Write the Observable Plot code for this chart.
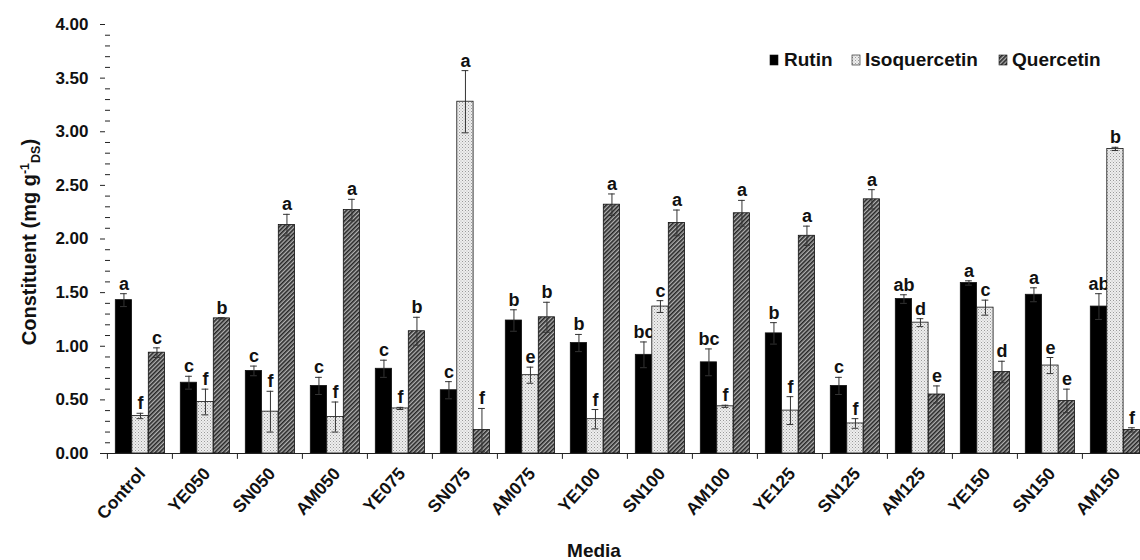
<!DOCTYPE html>
<html><head><meta charset="utf-8">
<script src="https://cdn.jsdelivr.net/npm/d3@7"></script>
<script src="https://cdn.jsdelivr.net/npm/@observablehq/plot@0.6"></script>
<style>
body{margin:0;background:#fff;}
#chart svg{font-family:"Liberation Sans",Arial,sans-serif;}
</style>
</head><body><div id="chart"></div>
<script>
const media = ["Control","YE050","SN050","AM050","YE075","SN075","AM075","YE100","SN100","AM100","YE125","SN125","AM125","YE150","SN150","AM150"];
const series = ["Rutin","Isoquercetin","Quercetin"];
const rutin    = [1.43,0.66,0.77,0.63,0.79,0.59,1.24,1.03,0.92,0.85,1.12,0.63,1.44,1.59,1.48,1.37];
const rutinErr = [0.06,0.06,0.045,0.08,0.08,0.08,0.10,0.08,0.12,0.125,0.10,0.08,0.04,0.02,0.065,0.12];
const iso      = [0.35,0.48,0.39,0.34,0.42,3.28,0.73,0.32,1.37,0.44,0.40,0.28,1.22,1.36,0.82,2.84];
const isoErr   = [0.025,0.12,0.19,0.14,0.01,0.29,0.075,0.09,0.055,0.01,0.13,0.045,0.037,0.07,0.075,0.015];
const quer     = [0.94,1.26,2.13,2.27,1.14,0.22,1.27,2.32,2.15,2.24,2.03,2.37,0.55,0.76,0.49,0.22];
const querErr  = [0.045,0.006,0.10,0.10,0.13,0.20,0.14,0.10,0.12,0.12,0.09,0.09,0.08,0.10,0.11,0.02];
const rutinLetters = ["a","c","c","c","c","c","b","b","bc","bc","b","c","ab","a","a","ab"];
const isoLetters   = ["f","f","f","f","f","a","e","f","c","f","f","f","d","c","e","b"];
const querLetters  = ["c","b","a","a","b","f","b","a","a","a","a","a","e","d","e","f"];
const yTicks = [0,0.5,1,1.5,2,2.5,3,3.5,4];
const yMinor = d3.range(0,41).map(i=>i/10).filter(v=>Math.round(v*10)%5!==0);

const values = [rutin, iso, quer], errs = [rutinErr, isoErr, querErr], letters = [rutinLetters, isoLetters, querLetters];
const rows = series.flatMap((s,i)=>media.map((m,j)=>({media:m, series:s, si:i, value:values[i][j], err:errs[i][j], letter:letters[i][j]})));

const W = 1140, H = 560, left = 105, right = 1148.5;
const step = (right-left)/media.length;
const barOff = 8.3, barW = 16.5;
const fills = ["#000","url(#stipple)","url(#hatch)"];

const marks = [];
series.forEach((s,i)=>{
  const d = rows.filter(r=>r.si===i);
  const l = barOff + i*barW, r = step - l - barW, c = l + barW/2;
  marks.push(Plot.barY(d,{x:"media",y:"value",fill:fills[i],stroke:"#111",strokeWidth:0.8,insetLeft:l,insetRight:r}));
  marks.push(Plot.ruleX(d,{x:"media",y1:r=>r.value-r.err,y2:r=>r.value+r.err,dx:c-step/2,stroke:"#333",strokeWidth:1}));
  marks.push(Plot.tickY(d,{x:"media",y:r=>r.value+r.err,insetLeft:c-3.5,insetRight:step-c-3.5,stroke:"#333",strokeWidth:1}));
  marks.push(Plot.tickY(d,{x:"media",y:r=>r.value-r.err,insetLeft:c-3.5,insetRight:step-c-3.5,stroke:"#333",strokeWidth:1}));
  marks.push(Plot.text(d,{x:"media",y:r=>r.value+r.err,text:"letter",dx:c-step/2,dy:-4,lineAnchor:"bottom",fontSize:18,fontWeight:"bold",fill:"#111"}));
});

const chart = Plot.plot({
  width: W, height: H,
  marginLeft: left, marginRight: 0, marginTop: 24, marginBottom: 107,
  style: {fontFamily:"'Liberation Sans', Arial, sans-serif", fontSize:"17px", color:"#111", background:"#fff"},
  x: {type:"band", domain: media, range:[left,right], padding:0, axis:null},
  y: {domain:[0,4]},
  marks: [
    ...marks,
    Plot.ruleY([0],{stroke:"#222"}),
    Plot.ruleX(media,{x:d=>d,y1:0,y2:-0.055,dx:-step/2,stroke:"#222"}),
    Plot.axisY({ticks:yTicks, tickFormat:d3.format(".2f"), tickSize:5, tickPadding:12, fontSize:17, fontWeight:"bold", label:null, line:true, stroke:"#222"}),
    Plot.axisY({ticks:yMinor, tickSize:5, text:null, dx:5, label:null, stroke:"#222"}),
    Plot.text(media,{x:d=>d, frameAnchor:"bottom", text:d=>d, rotate:-48, textAnchor:"end", lineAnchor:"middle", dx:2, dy:17, fontSize:17.5, fontWeight:"bold", fill:"#111"})
  ]
});
document.getElementById("chart").appendChild(chart);

const svg = d3.select(chart);
const defs = svg.insert("defs",":first-child");
const st = defs.append("pattern").attr("id","stipple").attr("patternUnits","userSpaceOnUse").attr("width",3).attr("height",3);
st.append("rect").attr("width",3).attr("height",3).attr("fill","#eeeeee");
st.append("rect").attr("x",0).attr("y",0).attr("width",1).attr("height",1).attr("fill","#9a9a9a");
st.append("rect").attr("x",1.5).attr("y",1.5).attr("width",1).attr("height",1).attr("fill","#b5b5b5");
const ht = defs.append("pattern").attr("id","hatch").attr("patternUnits","userSpaceOnUse").attr("width",3).attr("height",3).attr("patternTransform","rotate(45)");
ht.append("rect").attr("width",3).attr("height",3).attr("fill","#b0b0b0");
ht.append("rect").attr("width",1.6).attr("height",3).attr("fill","#262626");

// y axis label
const yl = svg.append("text").attr("transform","translate(36,242) rotate(-90)").attr("text-anchor","middle")
  .attr("font-size",20).attr("font-weight","bold").attr("fill","#111");
yl.append("tspan").text("Constituent (mg g");
yl.append("tspan").attr("font-size",12.5).attr("dy",-7).text("-1");
yl.append("tspan").attr("font-size",12.5).attr("dy",11).text("DS");
yl.append("tspan").attr("dy",-4).text(")");

// x axis label
svg.append("text").attr("x",594).attr("y",557).attr("text-anchor","middle").attr("font-size",19).attr("font-weight","bold").attr("fill","#111").text("Media");

// legend
const leg = [{x:770,tx:784},{x:852,tx:865},{x:999,tx:1012}];
series.forEach((s,i)=>{
  svg.append("rect").attr("x",leg[i].x).attr("y",55).attr("width",8).attr("height",10).attr("fill",fills[i]).attr("stroke","#111").attr("stroke-width",0.6);
  svg.append("text").attr("x",leg[i].tx).attr("y",66).attr("text-anchor","start").attr("font-size",19).attr("font-weight","bold").attr("fill","#111").text(s);
});
</script></body></html>
